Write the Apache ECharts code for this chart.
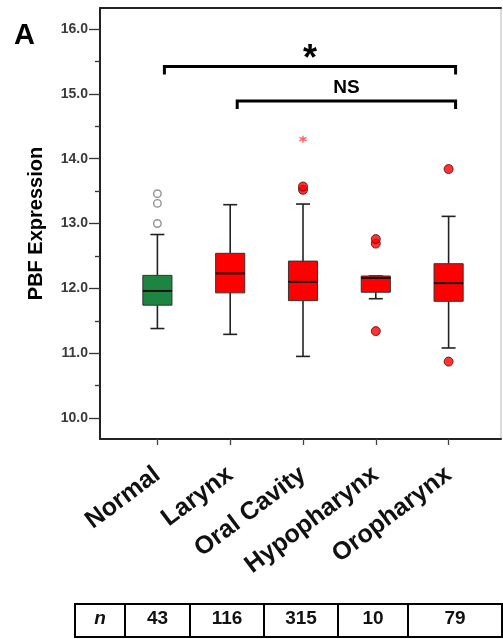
<!DOCTYPE html>
<html>
<head>
<meta charset="utf-8">
<script src="https://cdn.jsdelivr.net/npm/echarts@6/dist/echarts.min.js"></script>
<style>
html,body{margin:0;padding:0;background:#fff;}
#chart{width:503px;height:639px;}
</style>
</head>
<body>
<div id="chart"></div>
<script>
// ---- data ----
const categories = ['Normal', 'Larynx', 'Oral Cavity', 'Hypopharynx', 'Oropharynx'];
// [min, Q1, median, Q3, max]
const boxNormal      = [11.38, 11.74, 11.96, 12.20, 12.83];
const boxLarynx      = [11.29, 11.93, 12.23, 12.54, 13.29];
const boxOralCavity  = [10.95, 11.81, 12.10, 12.42, 13.30];
const boxHypopharynx = [11.84, 11.94, 12.16, 12.19, 12.19];
const boxOropharynx  = [11.08, 11.80, 12.08, 12.38, 13.11];
// outliers: [category index, value]
const outliersOpen   = [[0, 13.00], [0, 13.31], [0, 13.46]];
const outliersFilled = [[2, 13.52], [2, 13.57], [3, 12.69], [3, 12.76], [3, 11.34], [4, 13.84], [4, 10.87]];
const outliersExtreme = [[2, 14.30]];
const yTicks = [10, 16, 1];
const sampleSizes = [43, 116, 315, 10, 79];
// significance brackets: [from index, to index, y value]
const brackets = [[0, 4, 15.42], [1, 4, 14.89]];
const bracketLabels = ['*', 'NS'];

const boxes = [boxNormal, boxLarynx, boxOralCavity, boxHypopharynx, boxOropharynx];
const boxColors = ['#1d8541', '#ff0000', '#ff0000', '#ff0000', '#ff0000'];
const FONT = '"Liberation Sans", Arial, sans-serif';

const chart = echarts.init(document.getElementById('chart'), null, {renderer: 'canvas'});

const option = {
  animation: false,
  backgroundColor: '#fff',
  title: {
    text: 'A', left: 9, top: 16,
    textStyle: {fontFamily: FONT, fontSize: 29, fontWeight: 'bold', color: '#000'}
  },
  grid: [
    {left: 121, top: 8, width: 364, height: 431},   // data
    {left: 100, top: 8, width: 401, height: 431},   // frame
    {left: 100, top: 29, width: 401, height: 389}   // y ticks
  ],
  xAxis: [
    {
      gridIndex: 0, type: 'category', data: categories, boundaryGap: true,
      axisLine: {show: false},
      axisTick: {show: true, alignWithLabel: true, interval: 0, length: 6, lineStyle: {color: '#444', width: 1.3}},
      axisLabel: {interval: 0, rotate: 37, margin: 33, fontFamily: FONT, fontSize: 25, fontWeight: 'bold', color: '#111'},
      splitLine: {show: false}
    },
    {gridIndex: 1, type: 'value', position: 'bottom', min: 0, max: 1,
      axisLine: {show: true, onZero: false, lineStyle: {color: '#222', width: 2}},
      axisTick: {show: false}, axisLabel: {show: false}, splitLine: {show: false}},
    {gridIndex: 1, type: 'value', position: 'top', min: 0, max: 1,
      axisLine: {show: true, onZero: false, lineStyle: {color: '#222', width: 2}},
      axisTick: {show: false}, axisLabel: {show: false}, splitLine: {show: false}},
    {gridIndex: 2, type: 'value', show: false, min: 0, max: 1}
  ],
  yAxis: [
    {gridIndex: 0, type: 'value', min: 9.676, max: 16.324, show: false},
    {gridIndex: 1, type: 'value', position: 'left', min: 0, max: 1,
      axisLine: {show: true, onZero: false, lineStyle: {color: '#222', width: 2}},
      axisTick: {show: false}, axisLabel: {show: false}, splitLine: {show: false}},
    {gridIndex: 1, type: 'value', position: 'right', min: 0, max: 1,
      axisLine: {show: true, onZero: false, lineStyle: {color: '#cfcfcf', width: 1.5}},
      axisTick: {show: false}, axisLabel: {show: false}, splitLine: {show: false}},
    {
      gridIndex: 2, type: 'value', min: yTicks[0], max: yTicks[1], interval: yTicks[2],
      axisLine: {show: false},
      axisTick: {show: true, length: 11, lineStyle: {color: '#333', width: 1.3}},
      minorTick: {show: true, splitNumber: 2, length: 5, lineStyle: {color: '#333', width: 1.3}},
      axisLabel: {margin: 12, fontFamily: FONT, fontSize: 14, fontWeight: 'bold', color: '#3a3a3a',
        formatter: v => v.toFixed(1)},
      splitLine: {show: false}, minorSplitLine: {show: false},
      name: 'PBF Expression', nameLocation: 'middle', nameGap: 54,
      nameTextStyle: {fontFamily: FONT, fontSize: 20, fontWeight: 'bold', color: '#000'}
    }
  ],
  series: [
    {
      type: 'custom', xAxisIndex: 0, yAxisIndex: 0,
      encode: {x: 0, y: [1, 2, 3, 4, 5]},
      data: boxes.map((b, i) => [i].concat(b)),
      renderItem: function (params, api) {
        const i = api.value(0);
        const vMin = api.value(1), q1 = api.value(2), med = api.value(3), q3 = api.value(4), vMax = api.value(5);
        const bw = api.size([1, 0])[0];
        const half = bw * 0.2, capHalf = bw * 0.096;
        const pMin = api.coord([i, vMin]), pQ1 = api.coord([i, q1]), pMed = api.coord([i, med]),
              pQ3 = api.coord([i, q3]), pMax = api.coord([i, vMax]);
        const x = pMed[0];
        const wl = {stroke: '#222', lineWidth: 1.6};
        return {
          type: 'group',
          children: [
            {type: 'line', shape: {x1: x, y1: pMin[1], x2: x, y2: pQ1[1]}, style: wl},
            {type: 'line', shape: {x1: x, y1: pQ3[1], x2: x, y2: pMax[1]}, style: wl},
            {type: 'line', shape: {x1: x - capHalf, y1: pMin[1], x2: x + capHalf, y2: pMin[1]}, style: wl},
            {type: 'line', shape: {x1: x - capHalf, y1: pMax[1], x2: x + capHalf, y2: pMax[1]}, style: wl},
            {type: 'rect', shape: {x: x - half, y: pQ3[1], width: half * 2, height: pQ1[1] - pQ3[1]},
              style: {fill: boxColors[params.dataIndex], stroke: '#333', lineWidth: 1}},
            {type: 'line', shape: {x1: x - half, y1: pMed[1], x2: x + half, y2: pMed[1]},
              style: {stroke: '#111', lineWidth: 2}}
          ]
        };
      },
      z: 3
    },
    {
      type: 'scatter', xAxisIndex: 0, yAxisIndex: 0, data: outliersOpen,
      symbol: 'circle', symbolSize: 7.5,
      itemStyle: {color: '#fff', borderColor: '#777', borderWidth: 1.4}, z: 4
    },
    {
      type: 'scatter', xAxisIndex: 0, yAxisIndex: 0, data: outliersFilled,
      symbol: 'circle', symbolSize: 9,
      itemStyle: {color: '#ff0000', borderColor: '#5a0000', borderWidth: 1}, z: 4
    },
    {
      type: 'scatter', xAxisIndex: 0, yAxisIndex: 0, data: outliersExtreme,
      symbol: 'path://M0,-1L0,1M-0.87,-0.5L0.87,0.5M-0.87,0.5L0.87,-0.5', symbolSize: 7,
      itemStyle: {color: 'transparent', borderColor: '#ff3b3b', borderWidth: 1.4}, z: 4
    },
    {
      type: 'custom', xAxisIndex: 0, yAxisIndex: 0,
      encode: {x: [0, 1], y: 2},
      data: brackets,
      renderItem: function (params, api) {
        const from = api.value(0), to = api.value(1), yv = api.value(2);
        const p1 = api.coord([from, yv]), p2 = api.coord([to, yv]);
        const off = 7, drop = 8;
        const isStar = bracketLabels[params.dataIndex] === '*';
        return {
          type: 'group',
          children: [
            {type: 'polyline',
              shape: {points: [[p1[0] + off, p1[1] + drop], [p1[0] + off, p1[1]], [p2[0] + off, p2[1]], [p2[0] + off, p2[1] + drop]]},
              style: {stroke: '#000', lineWidth: 3, fill: null}},
            {type: 'text',
              style: {text: bracketLabels[params.dataIndex],
                x: (p1[0] + p2[0]) / 2 + off, y: p1[1] - (isStar ? 7 : 13),
                align: 'center', verticalAlign: 'middle',
                font: 'bold ' + (isStar ? 36 : 19) + 'px ' + FONT, fill: '#000'}}
          ]
        };
      },
      z: 5
    }
  ]
};

chart.setOption(option);

// ---- sample-size table ----
(function () {
  const colEdges = [75, 125, 190, 264, 338, 408, 502];
  const top = 604, h = 33;
  const children = [];
  children.push({type: 'rect', shape: {x: colEdges[0], y: top, width: colEdges[6] - colEdges[0], height: h},
    style: {fill: '#fff', stroke: '#000', lineWidth: 2}});
  for (let i = 1; i < colEdges.length - 1; i++) {
    children.push({type: 'line', shape: {x1: colEdges[i], y1: top, x2: colEdges[i], y2: top + h},
      style: {stroke: '#000', lineWidth: 2}});
  }
  const texts = ['n'].concat(sampleSizes.map(String));
  texts.forEach((t, i) => {
    children.push({type: 'text', style: {
      text: t, x: (colEdges[i] + colEdges[i + 1]) / 2, y: 619, align: 'center', verticalAlign: 'middle',
      font: (i === 0 ? 'italic ' : '') + 'bold 19px ' + FONT, fill: '#111'}});
  });
  chart.setOption({graphic: [{type: 'group', children: children}]});
})();
</script>
</body>
</html>
